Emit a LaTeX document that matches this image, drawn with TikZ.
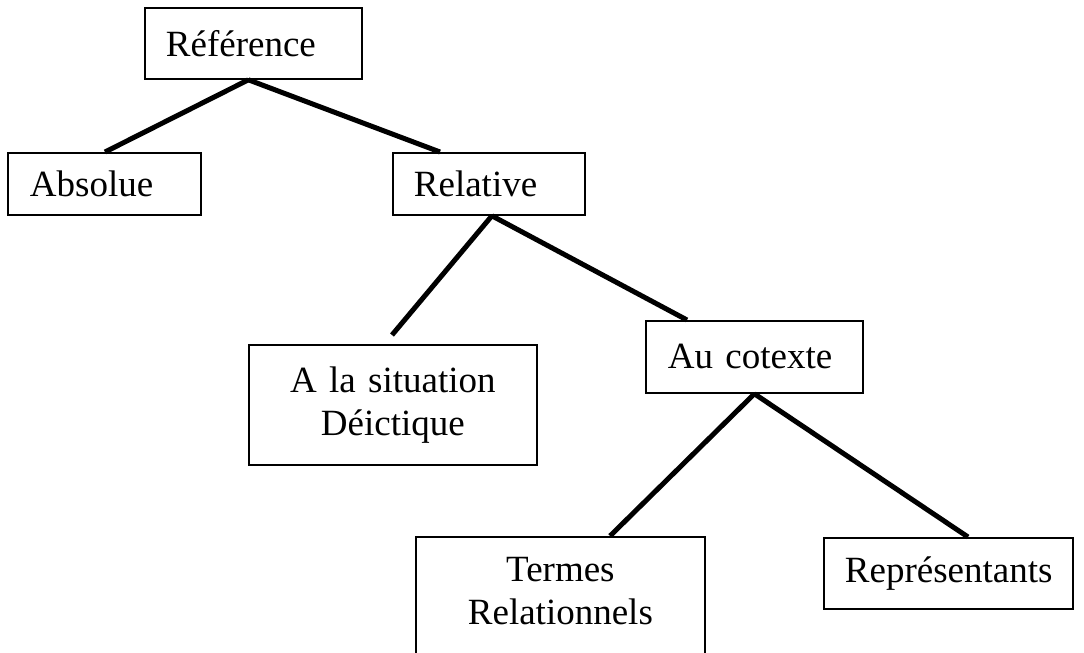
\documentclass[tikz,border=0pt]{standalone}
\usepackage{fontspec}
\setmainfont{Liberation Serif}
\tikzset{
  lbl/.style={font=\fontsize{37}{43}\selectfont},
  box/.style={lbl, draw, line width=1.8pt, anchor=north west, inner xsep=21pt, inner ysep=0pt},
  frame/.style={draw, line width=1.8pt, anchor=north west, inner sep=0pt},
  edge/.style={line width=5pt}
}
\begin{document}
\begin{tikzpicture}[x=1pt,y=-1pt]
\useasboundingbox (0,0) rectangle (1084,653);
\clip (0,0) rectangle (1084,653);
\node[box, text width=175pt, minimum height=71pt, align=left] (ref) at (144,7) {Référence};
\node[box, text width=149pt, minimum height=62pt, align=left, inner xsep=22pt] (abs) at (7,152) {Absolue};
\node[box, text width=150pt, minimum height=62pt, align=left] (rel) at (392,152) {Relative};
\node[box, text width=250pt, minimum height=120pt, align=center, inner xsep=19pt] (sit) at (248,344) {A la situation\\Déictique};
\node[box, text width=173pt, minimum height=72pt, align=left, inner xsep=22pt] (cot) at (645,320) {Au cotexte};
\node[frame, minimum width=289pt, minimum height=150pt] (term) at (415,536) {};
\node[lbl, align=center, anchor=north, inner sep=0pt] (termtext) at ([yshift=-21pt]term.north) {Termes\\Relationnels};
\node[box, text width=207pt, minimum height=71pt, align=left] (rep) at (823,537) {Représentants};
\coordinate (sitend) at (392,335);
\draw[edge] ([xshift=-5pt]ref.south) -- ([xshift=98pt]abs.north west);
\draw[edge] ([xshift=-5pt]ref.south) -- ([xshift=48pt]rel.north west);
\draw[edge] ([xshift=3pt]rel.south) -- (sitend);
\draw[edge] ([xshift=3pt]rel.south) -- ([xshift=42pt]cot.north west);
\draw[edge] (cot.south) -- ([xshift=195pt]term.north west);
\draw[edge] (cot.south) -- ([xshift=145pt]rep.north west);
\end{tikzpicture}
\end{document}
